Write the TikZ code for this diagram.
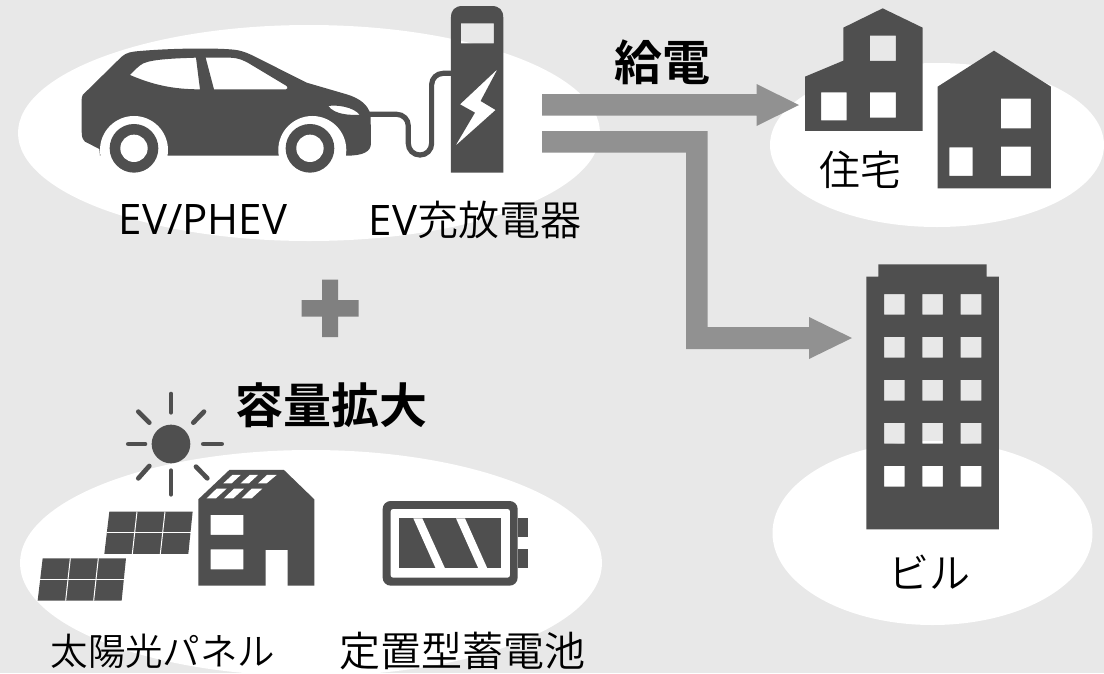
\documentclass[tikz,border=0pt]{standalone}
\usepackage{fontspec}
\setmainfont{Open Sans}
\newfontfamily\cjkfont{Noto Sans CJK JP}[UprightFont=* DemiLight,BoldFont=* Bold]
\definecolor{bgc}{HTML}{E8E8E8}
\definecolor{dark}{HTML}{4F4F4F}
\definecolor{arrowc}{HTML}{919191}
\definecolor{plusc}{HTML}{808080}
\tikzset{
  blob/.style={fill=white,draw=none},
  icon/.style={fill=dark,draw=none,even odd rule},
  flow/.style={fill=arrowc,draw=none},
  lab/.style={text=black,inner sep=0pt,font=\cjkfont\fontsize{41}{48}\selectfont},
  labb/.style={text=black,inner sep=0pt,font=\cjkfont\bfseries\fontsize{48}{56}\selectfont},
  ray/.style={draw=dark,line width=4.7pt,line cap=round},
  cable/.style={draw=dark,line width=5.2pt,rounded corners=11.5pt},
  gap/.style={draw=white,line width=1pt}
}
\begin{document}
\begin{tikzpicture}[x=1pt,y=-1pt]
\useasboundingbox (0,0) rectangle (1104,673);
\fill[bgc] (0,0) rectangle (1104,673);
% blobs
\fill[blob] (309,133) ellipse [x radius=291,y radius=108];
\fill[blob] (937,145) ellipse [x radius=167,y radius=82];
\fill[blob] (932.5,533) ellipse [x radius=160,y radius=92];
\fill[blob] (311,563) ellipse [x radius=291,y radius=113];
% car and charger (zoom coordinates)
\begin{scope}[shift={(60,0)},x=0.3333pt,y=-0.3333pt]
 \draw[cable] (925,343) -- (1045,343) -- (1045,465) -- (1115,465) -- (1115,220) -- (1180,220);
 \fill[icon] (68,285) -- (185,170) .. controls (200,157) and (215,155) .. (240,153)
   .. controls (320,146) and (440,143) .. (510,148) .. controls (540,150) and (555,156) .. (575,165)
   -- (740,248) -- (860,283) .. controls (900,295) and (925,315) .. (932,345)
   -- (933,430) .. controls (933,455) and (910,467) .. (860,467) -- (120,467) -- (118,447) -- (75,425)
   .. controls (65,415) and (65,405) .. (65,395) -- (65,305) .. controls (65,295) and (65,290) .. (68,285) -- cycle
   (210,225) .. controls (225,210) and (235,198) .. (250,190) .. controls (280,177) and (350,175) .. (408,173)
   -- (420,268) .. controls (340,268) and (280,255) .. (210,225) -- cycle
   (437,173) -- (510,173) .. controls (535,174) and (550,180) .. (570,192) -- (680,258)
   .. controls (684,262) and (684,268) .. (678,268) -- (462,268) -- cycle
   (805,318) .. controls (830,314) and (880,320) .. (900,345) .. controls (870,345) and (825,345) .. (805,318) -- cycle;
 \fill[white] (222,450) circle [radius=102];
 \fill[white] (757,450) circle [radius=102];
 \fill[dark] (222,445) circle [radius=73];
 \fill[white] (222,445) circle [radius=41];
 \fill[dark] (750,445) circle [radius=73];
 \fill[white] (750,445) circle [radius=41];
 \fill[icon] (1173,518) -- (1173,53) .. controls (1173,30) and (1185,18) .. (1208,18) -- (1295,18)
   .. controls (1318,18) and (1330,30) .. (1330,53) -- (1330,518) -- cycle
   (1203,70) rectangle (1302,130)
   (1313,207) -- (1200,313) -- (1245,338) -- (1186,438) -- (1307,330) -- (1262,303) -- cycle;
\end{scope}
% houses
\begin{scope}[shift={(780,0)},x=0.3333pt,y=-0.3333pt]
 \fill[icon] (75,230) -- (190,182) -- (190,83) -- (308,25) -- (428,83) -- (428,393) -- (75,393) -- cycle
   (270,107) rectangle (348,183) (123,277) rectangle (200,361) (270,277) rectangle (348,353);
 \fill[icon] (473,260) -- (642,152) -- (813,260) -- (813,565) -- (473,565) -- cycle
   (663,296) rectangle (753,385) (508,442) rectangle (578,528) (663,440) rectangle (753,528);
\end{scope}
% building
\begin{scope}[shift={(850,255)},x=0.3333pt,y=-0.3333pt]
 \fill[icon] (49,65) -- (85,65) -- (85,28) -- (410,28) -- (410,65) -- (447,65) -- (447,823) -- (49,823) -- cycle
  (102,117) rectangle (164,179) (217,117) rectangle (279,179) (332,117) rectangle (394,179)
  (102,246) rectangle (164,308) (217,246) rectangle (279,308) (332,246) rectangle (394,308)
  (102,375) rectangle (164,437) (217,375) rectangle (279,437) (332,375) rectangle (394,437)
  (102,504) rectangle (164,566) (217,504) rectangle (279,566) (332,504) rectangle (394,566)
  (102,633) rectangle (164,695) (217,633) rectangle (279,695) (332,633) rectangle (394,695);
\end{scope}
% solar
\begin{scope}[shift={(20,380)},x=0.3333pt,y=-0.3333pt]
 \fill[dark] (453,192) circle [radius=58];
 \draw[ray] (453,42) -- (453,97);
 \draw[ray] (453,272) -- (453,343);
 \draw[ray] (325,192) -- (375,192);
 \draw[ray] (550,192) -- (605,192);
 \draw[ray] (355,95) -- (388,128);
 \draw[ray] (552,95) -- (520,128);
 \draw[ray] (388,258) -- (355,295);
 \draw[ray] (528,260) -- (562,295);
 \fill[icon] (535,358) -- (628,270) -- (792,270) -- (883,358) -- (883,617) -- (803,617) -- (803,510) -- (737,510) -- (737,617) -- (535,617) -- cycle
   (572,405) rectangle (670,465) (572,508) rectangle (670,568);
 \fill[white] (610,310) -- (637,285) -- (662,285) -- (635,310) -- cycle;
 \fill[white] (662,310) -- (689,285) -- (714,285) -- (687,310) -- cycle;
 \fill[white] (714,310) -- (741,285) -- (770,285) -- (740,310) -- cycle;
 \fill[white] (560,355) -- (590,326) -- (620,326) -- (588,355) -- cycle;
 \fill[white] (612,355) -- (642,326) -- (672,326) -- (640,355) -- cycle;
 \fill[white] (665,355) -- (695,326) -- (727,326) -- (695,355) -- cycle;
 \foreach \dx/\dy in {0/0,-200/140}{
  \begin{scope}[shift={(\dx,\dy)}]
  \fill[dark] (268,395) -- (518,395) -- (505,522) -- (253,522) -- cycle;
  \draw[gap] (261,458.5) -- (512,458.5);
  \draw[gap] (351,395) -- (337,522);
  \draw[gap] (435,395) -- (421,522);
  \end{scope}
 }
\end{scope}
% battery
\begin{scope}[shift={(370,490)},x=0.3333pt,y=-0.3333pt]
 \fill[dark,rounded corners=8pt] (38,33) rectangle (443,287);
 \fill[white,rounded corners=2.5pt] (62,57) rectangle (420,263);
 \fill[dark] (88,85) rectangle (393,235);
 \fill[white] (130,85) -- (157,85) -- (225,235) -- (197,235) -- cycle;
 \fill[white] (258,85) -- (285,85) -- (352,235) -- (325,235) -- cycle;
 \fill[dark] (443,85) rectangle (475,142);
 \fill[dark] (443,178) rectangle (475,235);
\end{scope}
% arrows
\fill[flow] (542,94) -- (756.5,94) -- (756.5,84) -- (799,105) -- (756.5,126) -- (756.5,115.5) -- (542,115.5) -- cycle;
\fill[flow] (542,131) -- (707.5,131) -- (707.5,327) -- (809,327) -- (809,317) -- (852,338) -- (809,359) -- (809,349) -- (686,349) -- (686,152.5) -- (542,152.5) -- cycle;
% plus
\fill[plusc] (322,279.5) -- (338,279.5) -- (338,300) -- (358.5,300) -- (358.5,316.5) -- (338,316.5) -- (338,337) -- (322,337) -- (322,316.5) -- (301.5,316.5) -- (301.5,300) -- (322,300) -- cycle;
% labels
\node[lab,font=\fontspec{Open Sans}\fontsize{42}{48}\selectfont] (evphev) at (203,220) {EV/PHEV};
\node[lab] (charger) at (475,220) {{\fontspec{Open Sans}\fontsize{42}{48}\selectfont EV}充放電器};
\node[labb] (kyuden) at (662,62) {給電};
\node[lab] (jutaku) at (860,170) {住宅};
\node[lab] (biru) at (929,572) {ビル};
\node[labb] (yoryo) at (331,405) {容量拡大};
\node[lab,font=\cjkfont\fontsize{37.5}{44}\selectfont] (taiyo) at (163,651) {太陽光パネル};
\node[lab] (teichi) at (462,651) {定置型蓄電池};
\end{tikzpicture}
\end{document}
